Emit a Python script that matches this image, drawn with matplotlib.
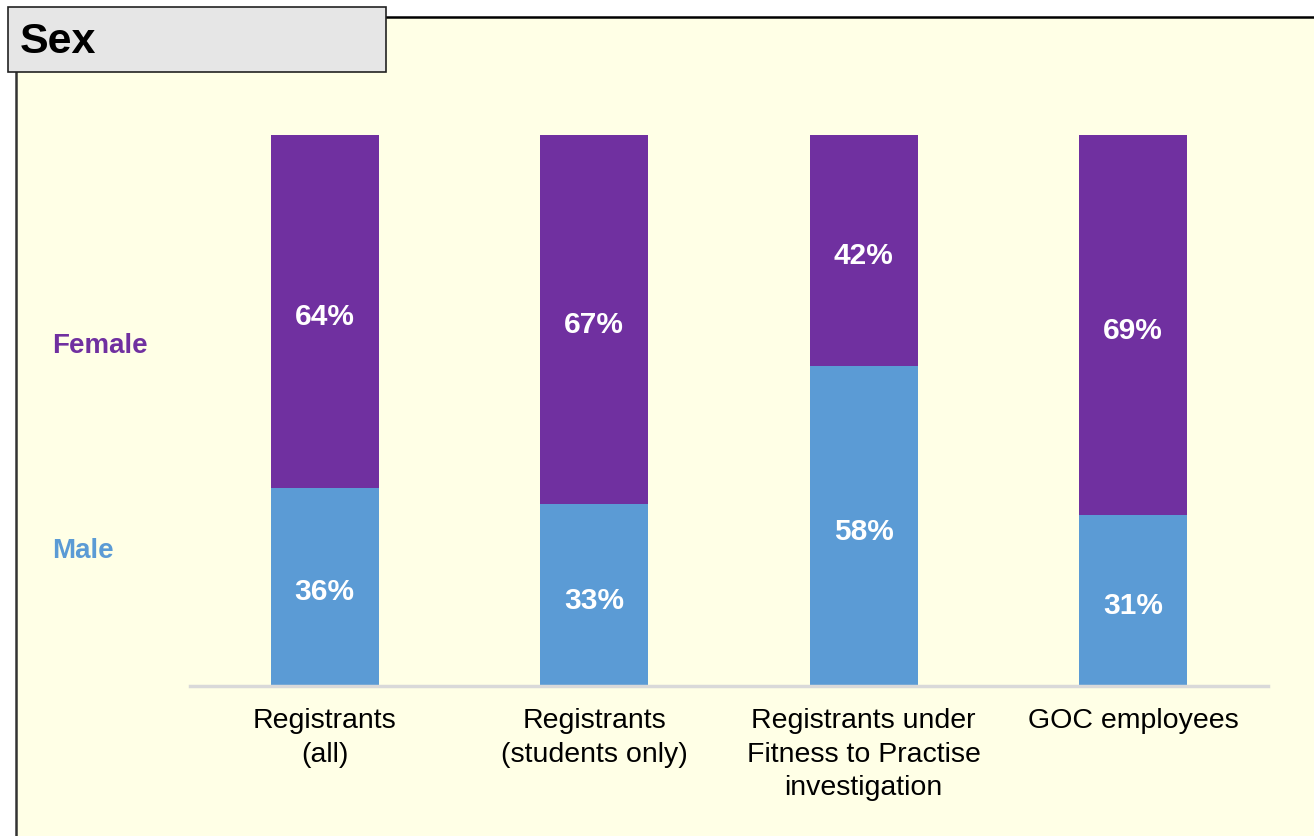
import matplotlib.pyplot as plt
from matplotlib.patches import Rectangle
from matplotlib.lines import Line2D
import numpy as np

# Data
categories = ['Registrants\n(all)', 'Registrants\n(students only)',
              'Registrants under\nFitness to Practise\ninvestigation', 'GOC employees']
male = [36, 33, 58, 31]
female = [64, 67, 42, 69]

purple = '#7030A0'
blue = '#5B9BD5'
cream = '#FFFFE6'

plt.rcParams['font.family'] = ['Liberation Sans', 'DejaVu Sans']

W, H = 1314, 836
fig = plt.figure(figsize=(W / 100, H / 100), dpi=100)
fig.patch.set_facecolor('white')

def fx(px):
    return px / W

def fy(py):
    return 1 - py / H

# panel background and border (drawn below the axes)
fig.patches.append(Rectangle((fx(16), 0), 1 - fx(16), fy(17), transform=fig.transFigure,
                             facecolor=cream, edgecolor='none', zorder=-3))
fig.lines.append(Line2D([fx(16), 1], [fy(17), fy(17)], transform=fig.transFigure,
                        color='black', lw=1.8, zorder=-2))
fig.lines.append(Line2D([fx(16), fx(16)], [0, fy(17)], transform=fig.transFigure,
                        color='#333333', lw=1.8, zorder=-2))

# title box
fig.patches.append(Rectangle((fx(8), fy(72)), fx(386) - fx(8), fy(7) - fy(72),
                             transform=fig.transFigure, facecolor='#E6E6E6',
                             edgecolor='#222222', lw=1.2, zorder=-1))
fig.text(fx(20), fy(42), 'Sex', fontsize=31, fontweight='bold', va='center', ha='left', zorder=3)

ax = fig.add_axes([fx(190), fy(686), fx(1268) - fx(190), fy(135) - fy(686)])
ax.set_facecolor('none')
ax.set_zorder(1)

x = np.arange(len(categories))
ax.bar(x, male, width=0.4, color=blue)
ax.bar(x, female, width=0.4, bottom=male, color=purple)

for i in range(len(categories)):
    ax.text(x[i], male[i] / 2 - 1.0, f'{male[i]}%', ha='center', va='center',
            color='white', fontsize=21.5, fontweight='bold')
    ax.text(x[i], male[i] + female[i] / 2 - 1.0, f'{female[i]}%', ha='center', va='center',
            color='white', fontsize=21.5, fontweight='bold')

ax.set_xlim(-0.5, len(categories) - 0.5)
ax.set_ylim(0, 100)
ax.set_xticks(x)
ax.set_xticklabels(categories, fontsize=20.5, linespacing=1.38, va='top')
ax.tick_params(axis='x', length=0, pad=16)
ax.set_yticks([])
for s in ['top', 'right', 'left']:
    ax.spines[s].set_visible(False)
ax.spines['bottom'].set_color('#D9D9D9')
ax.spines['bottom'].set_linewidth(2.5)

# series labels on the left
fig.text(fx(52), fy(346), 'Female', color=purple, fontsize=20, fontweight='bold', va='center')
fig.text(fx(52), fy(551), 'Male', color=blue, fontsize=20, fontweight='bold', va='center')

fig.savefig('out.png', dpi=100)
